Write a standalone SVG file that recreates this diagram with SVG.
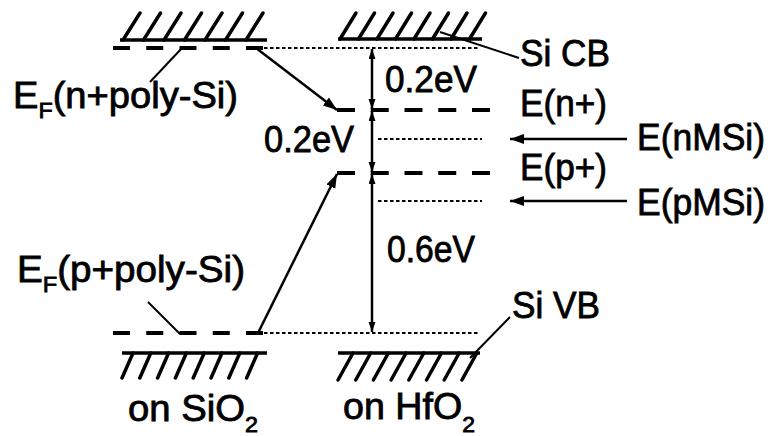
<svg xmlns="http://www.w3.org/2000/svg" width="774" height="436" viewBox="0 0 774 436">
<style>
.t{font-family:"Liberation Sans",Arial,sans-serif;font-size:36px;fill:#000;stroke:#000;stroke-width:0.8px}
.sub{font-size:22px}
.base{stroke:#000;stroke-width:3.5;fill:none}
.hatch{stroke:#000;stroke-width:3.5;stroke-linecap:round;fill:none}
.dash{stroke:#000;stroke-width:4;fill:none}
.dot{stroke:#000;stroke-width:2.2;stroke-dasharray:3.5 2.5;fill:none}
.ln{stroke:#000;stroke-width:2.5;fill:none}
.lead{stroke:#000;stroke-width:2;fill:none}
</style>
<defs>
<marker id="ah" markerUnits="userSpaceOnUse" markerWidth="16" markerHeight="12" refX="14" refY="5" orient="auto"><path d="M0,0 L14,5 L0,10 Z" fill="#000"/></marker>
<marker id="dim" markerUnits="userSpaceOnUse" markerWidth="11" markerHeight="8" refX="10" refY="3.5" orient="auto-start-reverse"><path d="M0,0 L10,3.5 L0,7 Z" fill="#000"/></marker>
</defs>
<rect width="774" height="436" fill="#fff"/>

<g id="sio2-top-hatch">
<line class="base" x1="120" y1="40" x2="267" y2="40"/>
<path class="hatch" d="M123,40 l17,-27 M143.5,40 l17,-27 M164,40 l17,-27 M184.5,40 l17,-27 M205,40 l17,-27 M225.5,40 l17,-27 M246,40 l17,-27"/>
</g>
<g id="hfo2-top-hatch">
<line class="base" x1="338" y1="39" x2="482" y2="39"/>
<path class="hatch" d="M340,39 l16,-26 M358.5,39 l16,-26 M377,39 l16,-26 M395.5,39 l16,-26 M414,39 l16,-26 M432.5,39 l16,-26 M451,39 l16,-26 M469.5,39 l16,-26"/>
</g>
<g id="sio2-bottom-hatch">
<line class="base" x1="122" y1="353" x2="267" y2="353"/>
<path class="hatch" d="M133,353 l-11,25 M150.8,353 l-11,25 M168.6,353 l-11,25 M186.4,353 l-11,25 M204.2,353 l-11,25 M222,353 l-11,25 M239.8,353 l-11,25 M257.6,353 l-11,25"/>
</g>
<g id="hfo2-bottom-hatch">
<line class="base" x1="338" y1="353" x2="480" y2="353"/>
<path class="hatch" d="M353,353 l-15,27 M370.7,353 l-15,27 M388.4,353 l-15,27 M406.1,353 l-15,27 M423.8,353 l-15,27 M441.5,353 l-15,27 M459.2,353 l-15,27 M476.9,353 l-15,27"/>
</g>

<g id="ef-n-poly">
<line class="dash" x1="113" y1="48" x2="263" y2="48" stroke-dasharray="17 16.25"/>
</g>
<g id="ef-p-poly">
<line class="dash" x1="113" y1="333" x2="263" y2="333" stroke-dasharray="17 16.25"/>
</g>
<g id="si-cb"><line class="dot" x1="264" y1="48" x2="480" y2="48"/></g>
<g id="si-vb"><line class="dot" x1="264" y1="333" x2="480" y2="333"/></g>
<g id="e-nplus"><line class="dash" x1="337" y1="110" x2="490" y2="110" stroke-dasharray="18 15.75"/></g>
<g id="e-pplus"><line class="dash" x1="337" y1="173" x2="490" y2="173" stroke-dasharray="18 15.75"/></g>
<g id="e-nmsi"><line class="dot" x1="378" y1="139" x2="482" y2="139"/></g>
<g id="e-pmsi"><line class="dot" x1="378" y1="201" x2="482" y2="201"/></g>

<g id="connectors">
<line class="ln" x1="256" y1="48" x2="337" y2="110" marker-end="url(#ah)"/>
<line class="ln" x1="258" y1="333" x2="337" y2="174" marker-end="url(#ah)"/>
<line class="ln" x1="627" y1="139" x2="510" y2="139" marker-end="url(#ah)"/>
<line class="ln" x1="627" y1="201" x2="510" y2="201" marker-end="url(#ah)"/>
<line class="ln" x1="372" y1="49" x2="372" y2="109" marker-start="url(#dim)" marker-end="url(#dim)"/>
<line class="ln" x1="372" y1="111" x2="372" y2="172" marker-start="url(#dim)" marker-end="url(#dim)"/>
<line class="ln" x1="372" y1="174" x2="372" y2="332" marker-start="url(#dim)" marker-end="url(#dim)"/>
<line class="lead" x1="182" y1="48" x2="150" y2="82"/>
<line class="lead" x1="180" y1="334" x2="148" y2="302"/>
<line class="lead" x1="440" y1="32" x2="519" y2="58"/>
<line class="lead" x1="470" y1="358" x2="510" y2="317"/>
</g>

<g id="labels">
<text class="t" x="520" y="66" textLength="90" lengthAdjust="spacingAndGlyphs">Si CB</text>
<text class="t" x="520" y="116" textLength="87" lengthAdjust="spacingAndGlyphs">E(n+)</text>
<text class="t" x="520" y="180" textLength="87" lengthAdjust="spacingAndGlyphs">E(p+)</text>
<text class="t" x="637" y="150" textLength="128" lengthAdjust="spacingAndGlyphs">E(nMSi)</text>
<text class="t" x="637" y="215" textLength="128" lengthAdjust="spacingAndGlyphs">E(pMSi)</text>
<text class="t" x="385" y="92" textLength="92" lengthAdjust="spacingAndGlyphs">0.2eV</text>
<text class="t" x="264" y="152" textLength="90" lengthAdjust="spacingAndGlyphs">0.2eV</text>
<text class="t" x="387" y="262" textLength="88" lengthAdjust="spacingAndGlyphs">0.6eV</text>
<text class="t" x="512" y="318" textLength="88" lengthAdjust="spacingAndGlyphs">Si VB</text>
<text class="t" x="13" y="108" textLength="225" lengthAdjust="spacingAndGlyphs">E<tspan class="sub" dy="10">F</tspan><tspan dy="-10">(n+poly-Si)</tspan></text>
<text class="t" x="17" y="282" textLength="228" lengthAdjust="spacingAndGlyphs">E<tspan class="sub" dy="10">F</tspan><tspan dy="-10">(p+poly-Si)</tspan></text>
<text class="t" x="128" y="421" textLength="130" lengthAdjust="spacingAndGlyphs">on SiO<tspan class="sub" dy="11">2</tspan></text>
<text class="t" x="343" y="419" textLength="132" lengthAdjust="spacingAndGlyphs">on HfO<tspan class="sub" dy="13">2</tspan></text>
</g>
</svg>
